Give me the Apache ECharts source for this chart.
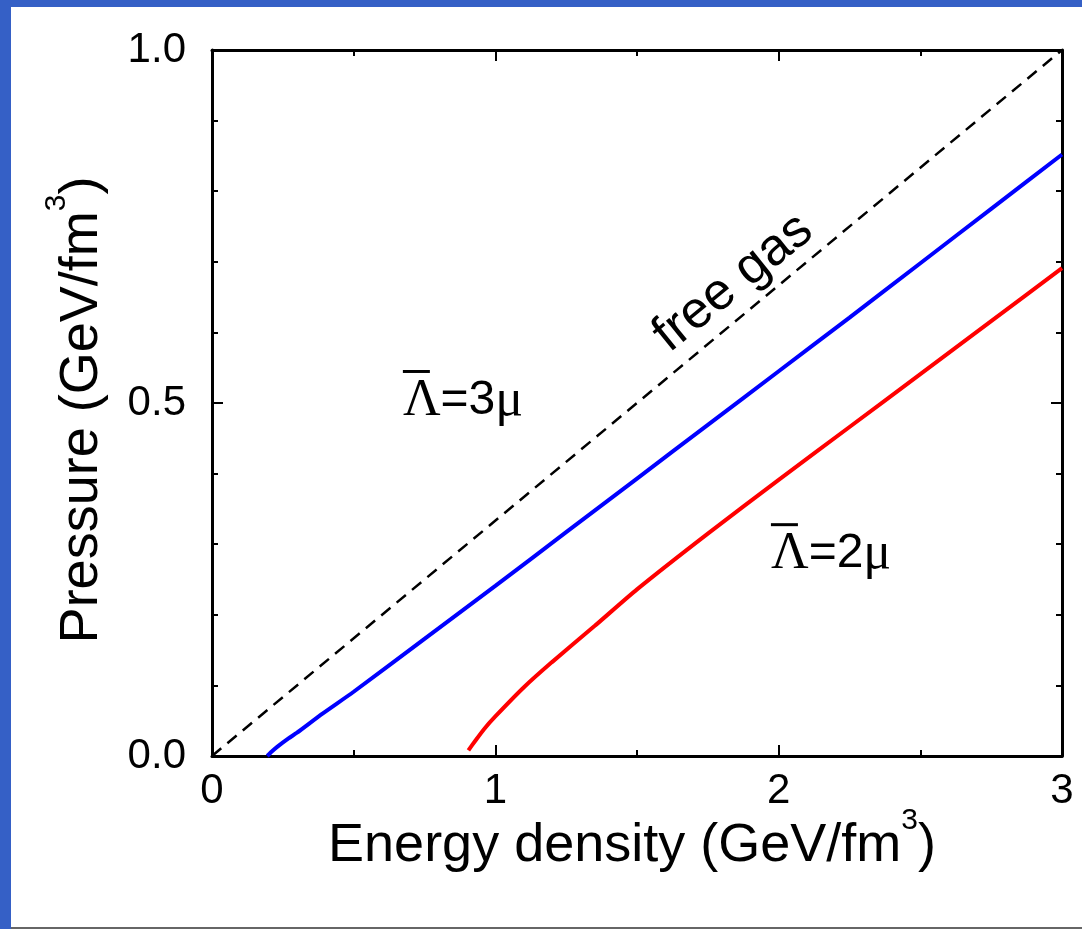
<!DOCTYPE html>
<html><head><meta charset="utf-8">
<script src="https://cdn.jsdelivr.net/npm/echarts@6/dist/echarts.min.js"></script>
<style>
html,body{margin:0;padding:0;background:#fff;}
#wrap{position:relative;width:1082px;height:929px;overflow:hidden;background:#fff;}
#chart{position:absolute;left:0;top:0;width:1082px;height:929px;}
.bl{position:absolute;left:0;top:0;width:11px;height:929px;background:#3560C6;}
.bt{position:absolute;left:0;top:0;width:1082px;height:7px;background:#3560C6;}
.bb{position:absolute;left:11px;top:927px;width:1071px;height:2px;background:#666;}
</style></head>
<body>
<div id="wrap"><div id="chart"></div><div class="bl"></div><div class="bt"></div><div class="bb"></div></div>
<script>
// ---- data ----
const xTickLabels = ['0', '1', '2', '3'];
const yTickLabels = ['0.0', '0.5', '1.0'];
const energyFree = [0, 3];
const pressureFree = [0, 1];
const energyBlue = [0.195, 0.21, 0.23, 0.27, 0.30, 0.39, 0.50, 0.75, 1.0, 1.25, 1.5, 1.75, 2.0, 2.25, 2.5, 2.75, 3.0];
const pressureBlue = [0, 0.006, 0.013, 0.025, 0.033, 0.060, 0.091, 0.166, 0.241, 0.317, 0.393, 0.469, 0.545, 0.621, 0.698, 0.775, 0.852];
const energyRed = [0.905, 0.93, 0.96, 1.0, 1.1, 1.2, 1.35, 1.5, 1.75, 2.0, 2.25, 2.5, 2.75, 3.0];
const pressureRed = [0.008, 0.022, 0.038, 0.056, 0.097, 0.133, 0.184, 0.236, 0.315, 0.391, 0.466, 0.541, 0.616, 0.691];
const labelFree = 'free gas';
const label3 = '{ob| }\n{L|\u039B}{t|=3}{m|\u03BC}';
const label2 = '{ob| }\n{L|\u039B}{t|=2}{m|\u03BC}';
const xName = '{m|Energy density (GeV/fm}{sup|3}{m|)}';
const yName = '{m|Pressure (GeV/fm}{sup|3}{m|)}';

// ---- chart ----
const FONT = "'Liberation Sans', Arial, sans-serif";
const SERIF = "'Liberation Serif', 'Times New Roman', serif";
const zip = (xs, ys) => xs.map((x, i) => [x, ys[i]]);
const chart = echarts.init(document.getElementById('chart'), null, {renderer: 'canvas'});

const nameRich = {
  m: {fontFamily: FONT, fontSize: 54, color: '#000', lineHeight: 80},
  sup: {fontFamily: FONT, fontSize: 30, color: '#000', verticalAlign: 'top', lineHeight: 30}
};
const annRich = {
  ob: {width: 27, height: 3, lineHeight: 3, backgroundColor: '#000', align: 'left', fontSize: 3},
  L: {fontFamily: SERIF, fontSize: 52, lineHeight: 56, color: '#000', align: 'left'},
  t: {fontFamily: FONT, fontSize: 48, lineHeight: 56, color: '#000', align: 'left'},
  m: {fontFamily: SERIF, fontSize: 52, lineHeight: 56, color: '#000', align: 'left'}
};
function baseAxis(extra) {
  return Object.assign({
    type: 'value',
    axisLine: {show: true, onZero: false, lineStyle: {color: '#000', width: 3}},
    axisTick: {show: true, inside: true, length: 11, lineStyle: {color: '#000', width: 2}},
    minorTick: {show: true, length: 6, lineStyle: {color: '#000', width: 2}},
    splitLine: {show: false},
    minorSplitLine: {show: false}
  }, extra);
}
const option = {
  animation: false,
  backgroundColor: '#fff',
  grid: {left: 212, right: 20, top: 50, bottom: 173},
  xAxis: [
    baseAxis({min: 0, max: 3, interval: 1, position: 'bottom',
      minorTick: {show: true, splitNumber: 2, length: 6, lineStyle: {color: '#000', width: 2}},
      axisLabel: {show: true, margin: 14, color: '#000', fontSize: 42, fontFamily: FONT,
        formatter: v => xTickLabels[Math.round(v)]},
      name: xName, nameLocation: 'middle', nameGap: 50, nameMoveOverlap: false,
      nameTextStyle: {rich: nameRich, fontFamily: FONT, fontSize: 54, color: '#000', padding: [0, 10, 0, 0]}}),
    baseAxis({min: 0, max: 3, interval: 1, position: 'top',
      minorTick: {show: true, splitNumber: 2, length: 6, lineStyle: {color: '#000', width: 2}},
      axisLabel: {show: false}})
  ],
  yAxis: [
    baseAxis({min: 0, max: 1, interval: 0.5, position: 'left',
      minorTick: {show: true, splitNumber: 5, length: 6, lineStyle: {color: '#000', width: 2}},
      axisLabel: {show: true, margin: 26, color: '#000', fontSize: 42, fontFamily: FONT,
        formatter: v => yTickLabels[Math.round(v * 2)]},
      name: yName, nameLocation: 'middle', nameGap: 90, nameMoveOverlap: false,
      nameTextStyle: {rich: nameRich, fontFamily: FONT, fontSize: 54, color: '#000', padding: [0, 14, 0, 0]}}),
    baseAxis({min: 0, max: 1, interval: 0.5, position: 'right',
      minorTick: {show: true, splitNumber: 5, length: 6, lineStyle: {color: '#000', width: 2}},
      axisLabel: {show: false}})
  ],
  series: [
    {type: 'line', name: 'free gas', data: zip(energyFree, pressureFree), showSymbol: false, silent: true,
      lineStyle: {color: '#000', width: 2.5, type: [12, 8]},
      markPoint: {symbol: 'circle', symbolSize: 0, silent: true,
        label: {show: true, position: 'inside', color: '#000', rich: annRich},
        data: [
          {coord: [0.886, 0.505], label: {formatter: label3}},
          {coord: [2.185, 0.288], label: {formatter: label2}},
          {coord: [1.84, 0.67], label: {formatter: labelFree, rotate: 39, fontFamily: FONT, fontSize: 52, color: '#000'}}
        ]}},
    {type: 'line', name: 'blue', data: zip(energyBlue, pressureBlue), showSymbol: false, smooth: 0.2, silent: true,
      lineStyle: {color: '#0000FF', width: 4}},
    {type: 'line', name: 'red', data: zip(energyRed, pressureRed), showSymbol: false, smooth: 0.2, silent: true,
      lineStyle: {color: '#FF0000', width: 4}}
  ]
};
chart.setOption(option);
</script>
</body></html>
